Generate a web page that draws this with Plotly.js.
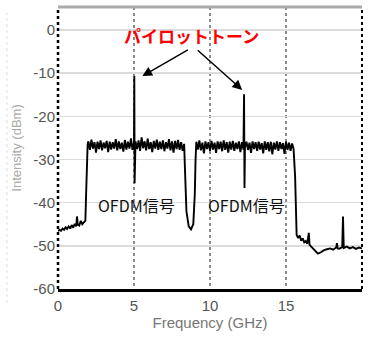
<!DOCTYPE html>
<html><head><meta charset="utf-8">
<script src="https://cdn.plot.ly/plotly-3.0.1.min.js"></script>
<style>html,body{margin:0;padding:0;background:#fff;}#chart{width:368px;height:338px;}</style>
</head><body><div id="chart"></div>
<script>
// Spectrum (frequency in GHz, intensity in dBm)
const floorFreq = [0,0.1,0.2,0.3,0.4,0.5,0.6,0.7,0.8,0.9,1.0,1.1,1.2,1.25,1.3,1.4,1.5,1.6,1.7,1.8,1.85,1.9,1.95];
const floorPow  = [-46.6,-46.3,-46.5,-46.0,-46.3,-45.7,-46.1,-45.5,-46.0,-45.2,-45.8,-44.9,-45.5,-43.2,-45.1,-45.3,-44.2,-45.0,-44.6,-44.2,-38,-30,-26.5];

const band1Freq = [2.0,2.1,2.2,2.3,2.4,2.5,2.6,2.7,2.8,2.9,3.0,3.1,3.2,3.3,3.4,3.5,3.6,3.7,3.8,3.9,4.0,4.1,4.2,4.3,4.4,4.5,4.6,4.7,4.8,4.9,5.0,5.02,5.04,5.06,5.1,5.2,5.3,5.4,5.5,5.6,5.7,5.8,5.9,6.0,6.1,6.2,6.3,6.4,6.5,6.6,6.7,6.8,6.9,7.0,7.1,7.2,7.3,7.4,7.5,7.6,7.7,7.8,7.9,8.0,8.1,8.2,8.3];
const band1Pow  = [-25.8,-27.8,-25.4,-27.5,-26.0,-28.4,-25.9,-27.6,-25.6,-27.9,-26.1,-27.4,-25.7,-28.3,-25.9,-27.7,-26.0,-27.5,-25.3,-27.9,-25.8,-27.6,-26.1,-28.2,-25.5,-27.7,-25.9,-27.5,-25.1,-27.8,-26.0,-10.7,-35.5,-27.0,-25.8,-27.6,-25.6,-28.0,-24.9,-27.4,-25.8,-27.9,-25.2,-27.6,-26.0,-28.3,-25.7,-27.5,-25.4,-27.8,-25.9,-27.6,-25.6,-28.1,-26.0,-27.5,-25.3,-27.9,-25.8,-28.4,-25.7,-27.6,-25.5,-27.8,-26.0,-28.0,-26.4];

const gapFreq = [8.35,8.45,8.6,8.75,8.9,9.0,9.05];
const gapPow  = [-32,-42,-45.5,-46.2,-45.0,-38,-30];

const band2Freq = [9.1,9.2,9.3,9.4,9.5,9.6,9.7,9.8,9.9,10.0,10.1,10.2,10.3,10.4,10.5,10.6,10.7,10.8,10.9,11.0,11.1,11.2,11.3,11.4,11.5,11.6,11.7,11.8,11.9,12.0,12.1,12.2,12.24,12.27,12.3,12.4,12.5,12.6,12.7,12.8,12.9,13.0,13.1,13.2,13.3,13.4,13.5,13.6,13.7,13.8,13.9,14.0,14.1,14.2,14.3,14.4,14.5,14.6,14.7,14.8,14.9,15.0,15.1,15.2,15.3,15.4,15.5];
const band2Pow  = [-25.9,-27.7,-25.6,-27.9,-26.1,-28.6,-25.8,-27.6,-26.0,-28.0,-25.7,-27.7,-26.1,-28.5,-25.8,-27.6,-25.9,-28.1,-25.6,-27.8,-26.0,-28.4,-25.9,-27.7,-25.7,-28.0,-26.1,-27.6,-25.8,-28.3,-26.0,-27.7,-14.9,-36.6,-27.2,-25.9,-27.8,-26.1,-28.5,-25.8,-27.6,-26.0,-28.0,-25.9,-27.7,-26.2,-28.6,-25.8,-27.8,-26.0,-28.1,-25.9,-28.8,-26.1,-27.7,-25.8,-28.0,-26.0,-27.6,-26.2,-28.7,-25.9,-27.8,-26.1,-28.0,-26.3,-27.6];

const tailFreq = [15.6,15.65,15.7,15.8,15.9,16.0,16.1,16.2,16.3,16.4,16.5,16.55,16.7,16.9,17.1,17.3,17.5,17.7,17.9,18.1,18.3,18.35,18.4,18.5,18.7,18.75,18.8,19.0,19.2,19.4,19.6,19.8,20.0];
const tailPow  = [-34,-45,-47.5,-48.2,-47.6,-48.8,-48.3,-49.2,-48.9,-49.5,-47.0,-49.8,-50.4,-51.2,-51.8,-51.5,-51.0,-50.8,-50.6,-50.9,-50.4,-49.4,-50.6,-50.7,-50.3,-43.2,-50.5,-50.2,-50.6,-50.3,-50.7,-50.4,-50.6];

const xTicks = [0,5,10,15,20];
const yTicks = [-60,-50,-40,-30,-20,-10,0];
const xLabel = 'Frequency (GHz)';
const yLabel = 'Intensity (dBm)';
const pilotLabel = 'パイロットトーン';
const ofdmLabel = 'OFDM信号';
const ofdmPos = [5.18, 12.39];
const pilotHeads = [[5.55,-10.7],[12.12,-13.9]];

const freq = [].concat(floorFreq, band1Freq, gapFreq, band2Freq, tailFreq);
const pow  = [].concat(floorPow, band1Pow, gapPow, band2Pow, tailPow);

const font = 'Liberation Sans, Arial, sans-serif';
const cjk = 'Noto Sans CJK JP, sans-serif';

const trace = {x: freq, y: pow, type: 'scatter', mode: 'lines',
  line: {color: '#000', width: 1.9}, hoverinfo: 'skip', showlegend: false};

const annotations = [
  {x: 0.438, y: 1 - (35 - 7) / 282, xref: 'paper', yref: 'paper', text: '<b>' + pilotLabel + '</b>', showarrow: false,
   font: {family: cjk, size: 17, color: '#ff0000'}, xanchor: 'center', yanchor: 'middle'},
  {x: pilotHeads[0][0], y: pilotHeads[0][1], ax: 47, ay: -27, showarrow: true, arrowhead: 2, arrowsize: 1.3, arrowwidth: 1.5, arrowcolor: '#000', text: ''},
  {x: pilotHeads[1][0], y: pilotHeads[1][1], ax: -46, ay: -41, showarrow: true, arrowhead: 2, arrowsize: 1.3, arrowwidth: 1.5, arrowcolor: '#000', text: ''},
  {x: ofdmPos[0], y: -40.5, text: ofdmLabel, showarrow: false, font: {family: cjk, size: 16, color: '#111'}},
  {x: ofdmPos[1], y: -40.5, text: ofdmLabel, showarrow: false, font: {family: cjk, size: 16, color: '#111'}}
];

const layout = {
  width: 368, height: 338,
  margin: {l: 58, r: 6, t: 7, b: 49, pad: 0},
  paper_bgcolor: '#fff', plot_bgcolor: '#fff',
  xaxis: {range: [0, 20], tickvals: xTicks, ticktext: xTicks.map(String),
    showgrid: true, gridcolor: '#8a8a8a', griddash: 'dot', gridwidth: 1.5,
    zeroline: false, showline: true, linecolor: '#000', linewidth: 3, ticks: '',
    ticklabelstandoff: 1,
    tickfont: {family: font, size: 15, color: '#555'},
    title: {text: xLabel, font: {family: font, size: 15, color: '#777'}, standoff: 4}},
  yaxis: {range: [-60, 5.3], tickvals: yTicks, ticktext: yTicks.map(String),
    showgrid: true, gridcolor: '#dcdcdc', gridwidth: 1.5,
    zeroline: false, showline: false, ticks: '',
    ticklabelstandoff: 2,
    tickfont: {family: font, size: 15, color: '#555'},
    title: {text: yLabel, font: {family: font, size: 13, color: '#aaa'}, standoff: 8}},
  shapes: [
    {type: 'line', xref: 'paper', yref: 'paper', x0: 0, x1: 0, y0: 0, y1: 1, line: {color: '#000', width: 2.5, dash: 'dot'}},
    {type: 'line', xref: 'paper', yref: 'paper', x0: 1, x1: 1, y0: 0, y1: 1, line: {color: '#000', width: 2, dash: 'dot'}},
    {type: 'line', xref: 'paper', yref: 'paper', x0: 0, x1: 1, y0: 1, y1: 1, line: {color: '#aaa', width: 3}},
    {type: 'line', xref: 'paper', yref: 'paper', x0: -0.168, x1: -0.168, y0: -0.05, y1: 0.98, line: {color: '#ddd', width: 1, dash: 'dot'}}
  ],
  annotations: annotations
};

Plotly.newPlot('chart', [trace], layout, {staticPlot: true, displayModeBar: false});
</script>
</body></html>
